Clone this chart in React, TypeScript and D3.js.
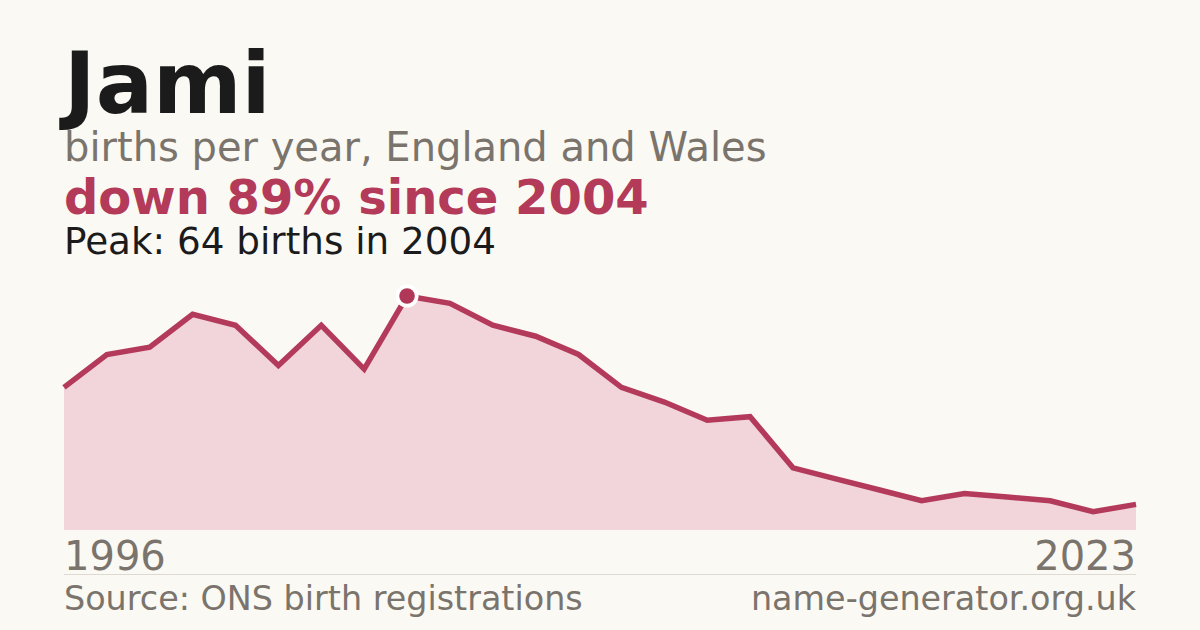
import { useEffect, useRef } from 'react';
import * as d3 from 'd3';

// births per year for "Jami", England and Wales (ONS)
const years = [
  1996, 1997, 1998, 1999, 2000, 2001, 2002, 2003, 2004, 2005, 2006, 2007, 2008,
  2009, 2010, 2011, 2012, 2013, 2014, 2015, 2016, 2017, 2018, 2019, 2022, 2023,
];
const births = [
  39, 48, 50, 59, 56, 45, 56, 44, 64, 62, 56, 53, 48, 39, 35, 30, 31, 17, 14, 11,
  8, 10, 9, 8, 5, 7,
];

const title = 'Jami';
const subtitle = 'births per year, England and Wales';
const sourceText = 'Source: ONS birth registrations';
const siteText = 'name-generator.org.uk';

const WIDTH = 1200;
const HEIGHT = 630;
const FONT = "'DejaVu Sans', sans-serif";

export default function App() {
  const svgRef = useRef<SVGSVGElement>(null);

  useEffect(() => {
    document.body.style.margin = '0';
    if (!svgRef.current) return;

    const svg = d3.select(svgRef.current);
    svg.selectAll('*').remove();

    const margin = { left: 64, right: 64 };
    const chartTop = 296;
    const chartBottom = 530;

    const data = years.map((year, i) => ({ year, value: births[i] }));
    const peakIdx = d3.maxIndex(births);
    const peak = data[peakIdx];
    const last = data[data.length - 1];
    const drop = Math.round((1 - last.value / peak.value) * 100);

    svg.append('rect').attr('width', WIDTH).attr('height', HEIGHT).attr('fill', '#faf9f4');

    // x by position in the series, y from zero to the peak
    const x = d3
      .scalePoint<number>()
      .domain(years)
      .range([margin.left, WIDTH - margin.right]);
    const y = d3
      .scaleLinear()
      .domain([0, d3.max(births) as number])
      .range([chartBottom, chartTop]);

    const area = d3
      .area<{ year: number; value: number }>()
      .x((d) => x(d.year) as number)
      .y0(chartBottom)
      .y1((d) => y(d.value));

    const line = d3
      .line<{ year: number; value: number }>()
      .x((d) => x(d.year) as number)
      .y((d) => y(d.value));

    svg.append('path').attr('d', area(data)).attr('fill', '#f2d5da');

    svg
      .append('path')
      .attr('d', line(data))
      .attr('fill', 'none')
      .attr('stroke', '#b33a5a')
      .attr('stroke-width', 5.5)
      .attr('stroke-linejoin', 'miter');

    // peak marker with a white halo
    svg
      .append('circle')
      .attr('cx', x(peak.year) as number)
      .attr('cy', y(peak.value))
      .attr('r', 11.5)
      .attr('fill', '#ffffff');
    svg
      .append('circle')
      .attr('cx', x(peak.year) as number)
      .attr('cy', y(peak.value))
      .attr('r', 7.8)
      .attr('fill', '#b13758');

    // heading block
    svg
      .append('text')
      .attr('x', 64)
      .attr('y', 113)
      .style('font-family', FONT)
      .style('font-weight', 'bold')
      .style('font-size', '85px')
      .style('fill', '#1b1b1b')
      .text(title);

    svg
      .append('text')
      .attr('x', 64)
      .attr('y', 161)
      .style('font-family', FONT)
      .style('font-size', '40px')
      .style('fill', '#7a746c')
      .text(subtitle);

    svg
      .append('text')
      .attr('x', 64)
      .attr('y', 214)
      .style('font-family', FONT)
      .style('font-weight', 'bold')
      .style('font-size', '48px')
      .style('fill', '#b33a58')
      .text(`down ${drop}% since ${peak.year}`);

    svg
      .append('text')
      .attr('x', 64)
      .attr('y', 254)
      .style('font-family', FONT)
      .style('font-size', '37.3px')
      .style('fill', '#1b1b1b')
      .text(`Peak: ${peak.value} births in ${peak.year}`);

    // end-year labels
    const yearLabels = [years[0], years[years.length - 1]];
    svg
      .selectAll('.year-label')
      .data(yearLabels)
      .enter()
      .append('text')
      .attr('class', 'year-label')
      .attr('x', (d) => x(d) as number)
      .attr('y', 570)
      .attr('text-anchor', (d, i) => (i === 0 ? 'start' : 'end'))
      .style('font-family', FONT)
      .style('font-size', '40px')
      .style('fill', '#7a746c')
      .text((d) => d);

    svg
      .append('line')
      .attr('x1', margin.left)
      .attr('x2', WIDTH - margin.right)
      .attr('y1', 574.5)
      .attr('y2', 574.5)
      .attr('stroke', '#dedad3')
      .attr('stroke-width', 1);

    // footer
    svg
      .append('text')
      .attr('x', 64)
      .attr('y', 610)
      .style('font-family', FONT)
      .style('font-size', '33.4px')
      .style('fill', '#7a746c')
      .text(sourceText);

    svg
      .append('text')
      .attr('x', WIDTH - margin.right)
      .attr('y', 610)
      .attr('text-anchor', 'end')
      .style('font-family', FONT)
      .style('font-size', '33.4px')
      .style('fill', '#7a746c')
      .text(siteText);
  }, []);

  return <svg ref={svgRef} width={WIDTH} height={HEIGHT} style={{ display: 'block' }} />;
}
